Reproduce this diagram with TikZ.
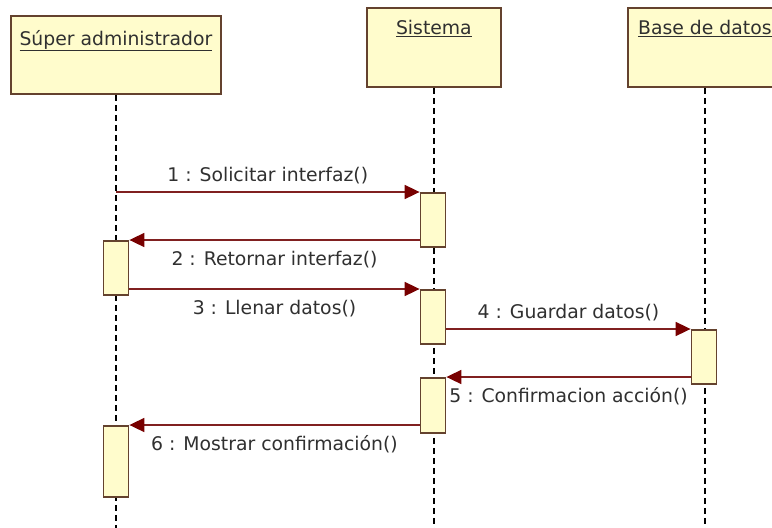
\documentclass[tikz,border=0pt]{standalone}
\usepackage{fontspec}
\setmainfont{DejaVu Sans}
\usetikzlibrary{arrows.meta, positioning}
\definecolor{boxfill}{RGB}{255,252,204}
\definecolor{boxline}{RGB}{100,66,46}
\definecolor{msgline}{RGB}{128,32,32}
\definecolor{tipred}{RGB}{120,0,0}
\definecolor{textgray}{RGB}{48,48,48}
\tikzset{
    head/.style={rectangle, draw=boxline, fill=boxfill, line width=1.8pt, anchor=north west},
    title/.style={text=textgray, font=\fontsize{18.8}{22}\selectfont, inner sep=1pt},
    activation/.style={rectangle, draw=boxline, fill=boxfill, line width=1.8pt, minimum width=25pt, anchor=north},
    lifeline/.style={draw=black, line width=1.8pt, dash pattern=on 6pt off 4pt},
    message/.style={draw=msgline, line width=1.7pt, -{Triangle[length=15pt, width=14pt, color=tipred]}},
    msglabel/.style={text=textgray, font=\fontsize{18.8}{22}\selectfont, inner sep=0pt}
}

\begin{document}
\begin{tikzpicture}[x=1pt, y=-1pt]
    \clip (0,0) rectangle (772,528);
    \fill[white] (0,0) rectangle (772,528);

    % objects
    \node[head, minimum width=210pt, minimum height=78pt] (admin) at (10,15) {};
    \node[head, minimum width=134pt, minimum height=79pt] (sistema) at (366,7) {};
    \node[head, minimum width=154pt, minimum height=79pt] (bd) at (627,7) {};
    \node[title, below=14pt of admin.north] {\underline{Súper administrador}};
    \node[title, below=12pt of sistema.north] {\underline{Sistema}};
    \node[title, below=12pt of bd.north] {\underline{Base de datos}};

    % lifelines
    \draw[lifeline] (admin.south) -- (admin.south |- 0,540);
    \draw[lifeline] (sistema.south) -- (sistema.south |- 0,540);
    \draw[lifeline] (bd.south) -- (bd.south |- 0,540);

    % activations
    \node[activation, minimum height=54pt] (sysA) at (433,192) {};
    \node[activation, minimum height=54pt] (admA) at (116,240) {};
    \node[activation, minimum height=54pt] (sysB) at (433,289) {};
    \node[activation, minimum height=54pt] (bdA) at (704,329) {};
    \node[activation, minimum height=55pt] (sysC) at (433,377) {};
    \node[activation, minimum height=71pt] (admB) at (116,425) {};

    % messages
    \coordinate (m1) at (admin.south |- sysA.north);
    \draw[message] (m1) -- (sysA.north west)
        node[msglabel, midway, above=7pt] {1 : Solicitar interfaz()};
    \draw[message] (sysA.west |- admA.north) -- (admA.north east)
        node[msglabel, midway, below=10pt] {2 : Retornar interfaz()};
    \draw[message] (admA.east |- sysB.north) -- (sysB.north west)
        node[msglabel, midway, below=10pt] {3 : Llenar datos()};
    \draw[message] (sysB.east |- bdA.north) -- (bdA.north west)
        node[msglabel, midway, above=7pt] {4 : Guardar datos()};
    \draw[message] (bdA.west |- sysC.north) -- (sysC.north east)
        node[msglabel, midway, below=10pt] {5 : Confirmacion acción()};
    \draw[message] (sysC.west |- admB.north) -- (admB.north east)
        node[msglabel, midway, below=10pt] {6 : Mostrar confirmación()};
\end{tikzpicture}
\end{document}
